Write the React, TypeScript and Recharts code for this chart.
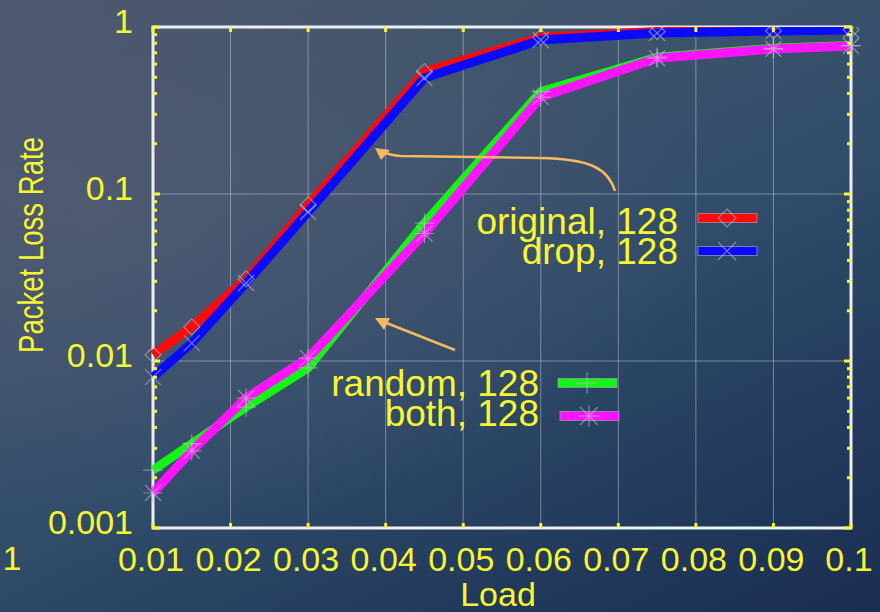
import { LineChart, Line, XAxis, YAxis, ReferenceLine, ReferenceArea } from "recharts";

// load values where the simulation was sampled
const loads = [0.01, 0.015, 0.022, 0.03, 0.045, 0.06, 0.075, 0.09, 0.1];

// packet loss rate per scheme
const original = [0.0109, 0.016, 0.031, 0.086, 0.54, 0.87, 0.94, 0.95, 0.965];
const drop = [0.008, 0.0128, 0.0293, 0.078, 0.495, 0.836, 0.92, 0.945, 0.96];
const random = [0.00222, 0.0032, 0.0053, 0.0091, 0.067, 0.41, 0.66, 0.745, 0.775];
const both = [0.00162, 0.0029, 0.006, 0.0104, 0.058, 0.38, 0.65, 0.738, 0.77];

const xTicks = [0.01, 0.02, 0.03, 0.04, 0.05, 0.06, 0.07, 0.08, 0.09, 0.1];
const yTicks = [0.001, 0.01, 0.1, 1];
const yMinorTicks = [
  0.002, 0.003, 0.004, 0.005, 0.006, 0.007, 0.008, 0.009,
  0.02, 0.03, 0.04, 0.05, 0.06, 0.07, 0.08, 0.09,
  0.2, 0.3, 0.4, 0.5, 0.6, 0.7, 0.8, 0.9,
];

const YELLOW = "#f8f531";
const GRID = "rgba(225,228,238,0.42)";
const FONT = '"Liberation Sans", Arial, sans-serif';

// plot frame (chart margins + axis sizes below)
const W = 880;
const H = 612;
const M = { top: 27, right: 29, bottom: 0, left: 0 };
const Y_W = 153;
const X_H = 84;
const PL = M.left + Y_W;
const PR = W - M.right;
const PT = M.top;
const PB = H - X_H;

type Shape = "diamond" | "x" | "plus" | "star";

const series: { key: string; name: string; color: string; shape: Shape }[] = [
  { key: "original", name: "original, 128", color: "#ff0a0a", shape: "diamond" },
  { key: "drop", name: "drop, 128", color: "#0a0aff", shape: "x" },
  { key: "random", name: "random, 128", color: "#14f514", shape: "plus" },
  { key: "both", name: "both, 128", color: "#ff14ff", shape: "star" },
];

const data = loads.map((load, i) => ({
  load,
  original: original[i],
  drop: drop[i],
  random: random[i],
  both: both[i],
}));

function Marker({ cx, cy, shape, s = 8 }: { cx: number; cy: number; shape: Shape; s?: number }) {
  const st = { stroke: "rgba(185,190,200,0.6)", strokeWidth: 1.2, fill: "none" };
  if (shape === "diamond")
    return <path d={`M${cx},${cy - s} L${cx + s},${cy} L${cx},${cy + s} L${cx - s},${cy} Z`} {...st} />;
  const x = `M${cx - s},${cy - s} L${cx + s},${cy + s} M${cx - s},${cy + s} L${cx + s},${cy - s}`;
  const p = `M${cx - s * 1.2},${cy} L${cx + s * 1.2},${cy} M${cx},${cy - s * 1.2} L${cx},${cy + s * 1.2}`;
  if (shape === "x") return <path d={x} {...st} />;
  if (shape === "plus") return <path d={p} {...st} />;
  return <path d={x + " " + p} {...st} />;
}

const makeDot = (shape: Shape) => (props: any) =>
  <Marker key={props.index} cx={props.cx} cy={props.cy} shape={shape} />;

// x labels plus the small inward ticks on the bottom and top frame
const XTick = ({ x, y, payload }: any) => (
  <g>
    <line x1={x} x2={x} y1={PB} y2={PB - 5} stroke={YELLOW} strokeWidth={3} />
    <line x1={x} x2={x} y1={PT} y2={PT + 5} stroke={YELLOW} strokeWidth={3} />
    <text x={x - 2} y={y} dy="0.71em" textAnchor="middle" fill={YELLOW} fontSize={34} fontFamily={FONT}>
      {String(payload.value)}
    </text>
  </g>
);

// y labels on decades only, inward ticks on both sides for every tick
const YTick = ({ y, payload }: any) => {
  const major = yTicks.includes(payload.value);
  const len = major ? 7 : 4;
  return (
    <g>
      <line x1={PL} x2={PL + len} y1={y} y2={y} stroke={YELLOW} strokeWidth={3} />
      <line x1={PR} x2={PR - len} y1={y} y2={y} stroke={YELLOW} strokeWidth={3} />
      {major && (
        <text x={PL - 20} y={y - 6} dy="0.355em" textAnchor="end" fill={YELLOW} fontSize={34} fontFamily={FONT}>
          {String(payload.value)}
        </text>
      )}
    </g>
  );
};

// legend placement, taken from the slide
const legendPos: Record<string, { tx: number; ty: number; bx: number; by: number }> = {
  original: { tx: 678, ty: 234, bx: 698, by: 218 },
  drop: { tx: 678, ty: 264, bx: 698, by: 251 },
  random: { tx: 539, ty: 396, bx: 558, by: 383 },
  both: { tx: 539, ty: 426, bx: 560, by: 416 },
};

export default function App() {
  return (
    <div
      style={{
        position: "absolute",
        left: 0,
        top: 0,
        width: W,
        height: H,
        overflow: "hidden",
        background:
          "radial-gradient(ellipse at 10% 35%, rgba(92,94,120,0.5), transparent 55%), linear-gradient(155deg, #4b566e 0%, #3e546c 30%, #304c69 55%, #233b5d 78%, #1a2e50 100%)",
      }}
    >
      <LineChart width={W} height={H} data={data} margin={M}>
        <XAxis xAxisId="x" dataKey="load" type="number" domain={[0.01, 0.1]} ticks={xTicks} interval={0}
          height={X_H} tickSize={0} tickMargin={19} axisLine={false} tickLine={false} tick={<XTick />} />
        <YAxis yAxisId="y" type="number" scale="log" domain={[0.001, 1]} allowDataOverflow
          ticks={[...yTicks, ...yMinorTicks]} interval={0}
          width={Y_W} tickSize={0} tickMargin={20} axisLine={false} tickLine={false} tick={<YTick />} />

        {xTicks.slice(1, -1).map((t) => (
          <ReferenceLine key={"gx" + t} xAxisId="x" yAxisId="y" x={t} stroke={GRID} strokeWidth={1} />
        ))}
        {yTicks.slice(1, -1).map((t) => (
          <ReferenceLine key={"gy" + t} xAxisId="x" yAxisId="y" y={t} stroke={GRID} strokeWidth={1} />
        ))}
        <ReferenceArea xAxisId="x" yAxisId="y" x1={0.01} x2={0.1} y1={0.001} y2={1}
          fill="none" stroke="#eceef4" strokeWidth={3} />

        {series.map((s) => (
          <Line
            key={s.key}
            xAxisId="x"
            yAxisId="y"
            type="linear"
            dataKey={s.key}
            name={s.name}
            stroke={s.color}
            strokeWidth={9}
            dot={makeDot(s.shape)}
            activeDot={false}
            isAnimationActive={false}
          />
        ))}
      </LineChart>

      <svg width={W} height={H} style={{ position: "absolute", left: 0, top: 0, pointerEvents: "none" }}>
        <text x={43} y={245} transform="rotate(-90 43 245)" textAnchor="middle" fill={YELLOW}
          fontSize={35} fontFamily={FONT} textLength={216} lengthAdjust="spacingAndGlyphs">
          Packet Loss Rate
        </text>
        <text x={498} y={606} textAnchor="middle" fill={YELLOW} fontSize={34} fontFamily={FONT}>
          Load
        </text>
        <text x={12} y={570} textAnchor="middle" fill={YELLOW} fontSize={34} fontFamily={FONT}>
          1
        </text>

        {series.map((s) => {
          const p = legendPos[s.key];
          return (
            <g key={s.key}>
              <text x={p.tx} y={p.ty} textAnchor="end" fill={YELLOW} fontSize={37} fontFamily={FONT}>
                {s.name}
              </text>
              <rect x={p.bx} y={p.by - 4.5} width={59} height={9} fill={s.color}
                stroke="rgba(160,160,185,0.7)" strokeWidth={1} />
              <Marker cx={p.bx + 29} cy={p.by} shape={s.shape} s={9} />
            </g>
          );
        })}

        {/* annotation arrows */}
        <g stroke="#f5b95f" strokeWidth={2.5} fill="none">
          <path d="M615,191 C608,168 590,159 540,158 L400,156 Q390,155 383,152" />
          <path d="M455,350 L384,322" />
        </g>
        <g fill="#f5b95f">
          <path d="M375,148 L390,150 L381,160 Z" />
          <path d="M375,318 L390,318 L384,330 Z" />
        </g>
      </svg>
    </div>
  );
}
